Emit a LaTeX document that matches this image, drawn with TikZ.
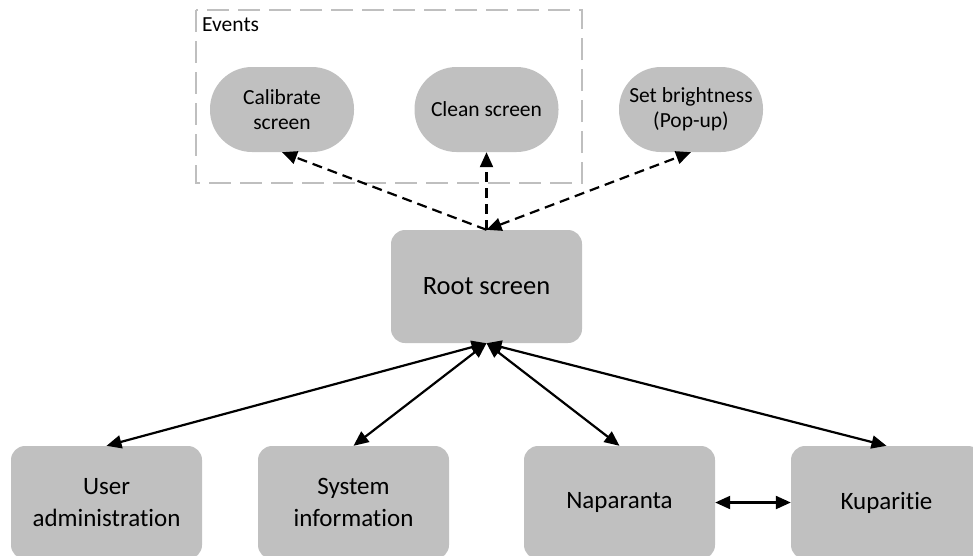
\documentclass[tikz,border=0pt]{standalone}
\usepackage{fontspec}
\setmainfont{Carlito}[Ligatures=NoCommon]
\usetikzlibrary{arrows.meta}
\definecolor{boxgray}{HTML}{C0C0C0}
\definecolor{framegray}{HTML}{BFBFBF}
\begin{document}
\begin{tikzpicture}[x=1pt,y=-1pt,
  screenbox/.style={fill=boxgray, rounded corners=14pt, minimum width=191pt, minimum height=113pt, inner sep=0pt, align=center, font=\fontsize{25}{32}\selectfont},
  eventbox/.style={fill=boxgray, rounded corners=42pt, minimum width=144pt, minimum height=85pt, inner sep=0pt, align=center, font=\fontsize{21.5}{25}\selectfont},
  evarrow/.style={line width=2.2pt, dash pattern=on 10pt off 6pt, -{Triangle[length=15pt,width=13pt]}},
  navarrow/.style={line width=2.2pt, {Triangle[length=15pt,width=13pt]}-{Triangle[length=15pt,width=13pt]}}
]
\useasboundingbox (0,0) rectangle (973,555);
\draw[framegray, line width=1.3pt, dash pattern=on 22pt off 9pt] (196,10) rectangle (582,183);
\node[anchor=west, inner sep=0pt, font=\fontsize{21.5}{24}\selectfont] (events) at (202,25) {Events};

\node[eventbox] (cal) at (282,109.5) {Calibrate\\screen};
\node[eventbox] (clean) at (486.5,109.5) {Clean screen};
\node[eventbox] (bright) at (691,109.5) {Set brightness\\(Pop-up)};

\node[screenbox, font=\fontsize{26.5}{30}\selectfont] (root) at (486.5,286.5) {Root screen};

\node[screenbox] (ua) at (106.5,502.5) {User\\administration};
\node[screenbox] (si) at (353.5,502.5) {System\\information};
\node[screenbox] (nap) at (619.5,502.5) {Naparanta};
\node[screenbox] (kup) at (886.5,502.5) {Kuparitie};

\draw[evarrow] (root.north) -- (cal.south);
\draw[evarrow] (root.north) -- (clean.south);
\draw[evarrow, {Triangle[length=15pt,width=13pt]}-{Triangle[length=15pt,width=13pt]}] (root.north) -- (bright.south);

\draw[navarrow] (root.south) -- (ua.north);
\draw[navarrow] (root.south) -- (si.north);
\draw[navarrow] (root.south) -- (nap.north);
\draw[navarrow] (root.south) -- (kup.north);
\draw[navarrow] (nap.east) -- (kup.west);
\end{tikzpicture}
\end{document}
